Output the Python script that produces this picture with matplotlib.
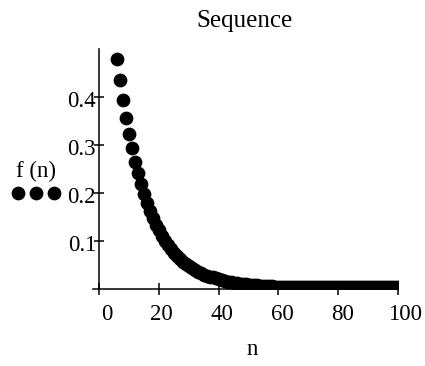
import matplotlib
matplotlib.use('Agg')
import matplotlib.pyplot as plt
import matplotlib.transforms as mtransforms
from matplotlib.lines import Line2D

plt.rcParams['font.family'] = ['Liberation Serif', 'DejaVu Serif']

# sequence values
n = list(range(6, 101))
f_n = [0.480, 0.435, 0.394, 0.357, 0.323, 0.293, 0.265, 0.241, 0.218, 0.198,
       0.179, 0.163, 0.148, 0.134, 0.122, 0.111, 0.100, 0.091, 0.083, 0.075,
       0.069, 0.063, 0.057, 0.052, 0.047, 0.043, 0.040, 0.036, 0.033, 0.030,
       0.028, 0.026, 0.024, 0.022, 0.021, 0.019, 0.017, 0.015, 0.014, 0.013,
       0.012, 0.011, 0.010, 0.010, 0.009, 0.009, 0.008, 0.008, 0.007, 0.007,
       0.006, 0.006, 0.006, 0.005, 0.005, 0.005, 0.005, 0.005, 0.005, 0.005,
       0.004, 0.004, 0.004, 0.004, 0.004, 0.004, 0.004, 0.004, 0.004, 0.004,
       0.004, 0.004, 0.004, 0.004, 0.004, 0.004, 0.004, 0.004, 0.004, 0.004,
       0.004, 0.004, 0.004, 0.004, 0.004, 0.004, 0.004, 0.004, 0.004, 0.004,
       0.004, 0.004, 0.004, 0.004, 0.004]

x_ticks = [0, 20, 40, 60, 80, 100]
y_ticks = [0.1, 0.2, 0.3, 0.4]
y_tick_labels = ['0.1', '0.2', '0.3', '0.4']

fs = 16.5
ms = 8.9

fig = plt.figure(figsize=(4.25, 3.66), dpi=100)
ax = fig.add_axes([93/425, 77/366, 305/425, 240/366])

ax.plot(n, f_n, 'o', color='black', markersize=ms, clip_on=True)

ax.set_xlim(-2, 100)
ax.set_ylim(0, 0.5)

ax.spines['top'].set_visible(False)
ax.spines['right'].set_visible(False)
ax.spines['left'].set_position(('data', 0))
for s in ['left', 'bottom']:
    ax.spines[s].set_linewidth(1.1)
    ax.spines[s].set_color('black')

ax.set_xticks(x_ticks)
ax.set_xticklabels([str(v) for v in x_ticks])
ax.set_yticks(y_ticks)
ax.set_yticklabels(y_tick_labels)
ax.tick_params(axis='x', direction='inout', length=8.6, width=1.1, pad=6.5, labelsize=fs)
ax.tick_params(axis='y', direction='inout', length=7.2, width=1.1, pad=-1.5, labelsize=fs)

# mathcad puts its labels a little off the ticks
x_off = [8, 3, 3, 4, 4, 7]
for lab, dx in zip(ax.get_xticklabels(), x_off):
    lab.set_transform(lab.get_transform() + mtransforms.ScaledTranslation(dx/100, 0, fig.dpi_scale_trans))
for lab in ax.get_yticklabels():
    lab.set_transform(lab.get_transform() + mtransforms.ScaledTranslation(0, -2/100, fig.dpi_scale_trans))

fig.text(244/425, 1 - 27/366, 'Sequence', ha='center', va='baseline', fontsize=18)
fig.text(252.5/425, 1 - 355/366, 'n', ha='center', va='baseline', fontsize=fs)

# trace label on the left
fig.text(36/425, 1 - 171/366, 'f (n)', ha='center', va='center', fontsize=fs)
fig.add_artist(Line2D([18/425, 36/425, 53.5/425], [1 - 192.7/366]*3, transform=fig.transFigure,
                      marker='o', linestyle='none', color='black', markersize=ms))

fig.savefig('out.png', dpi=100)
